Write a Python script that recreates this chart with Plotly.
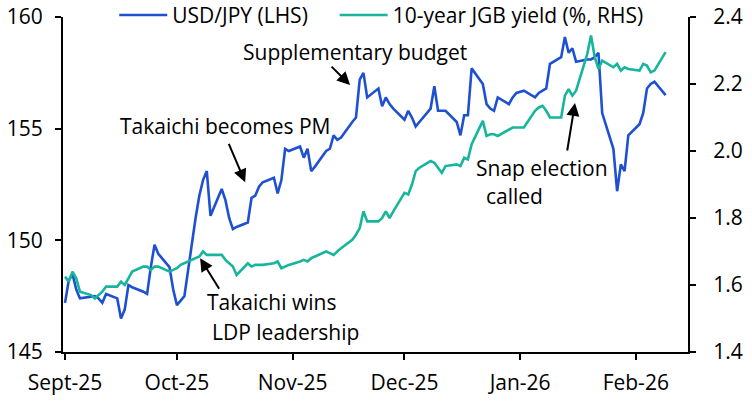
import plotly.graph_objects as go

dates = [
    "2025-09-01", "2025-09-02", "2025-09-03", "2025-09-04", "2025-09-05",
    "2025-09-08", "2025-09-09", "2025-09-10", "2025-09-11", "2025-09-12",
    "2025-09-15", "2025-09-16", "2025-09-17", "2025-09-18", "2025-09-19",
    "2025-09-22", "2025-09-23", "2025-09-24", "2025-09-25", "2025-09-26",
    "2025-09-29", "2025-09-30", "2025-10-01", "2025-10-02", "2025-10-03",
    "2025-10-06", "2025-10-07", "2025-10-08", "2025-10-09", "2025-10-10",
    "2025-10-13", "2025-10-14", "2025-10-15", "2025-10-16", "2025-10-17",
    "2025-10-20", "2025-10-21", "2025-10-22", "2025-10-23", "2025-10-24",
    "2025-10-27", "2025-10-28", "2025-10-29", "2025-10-30", "2025-10-31",
    "2025-11-03", "2025-11-04", "2025-11-05", "2025-11-06", "2025-11-07",
    "2025-11-10", "2025-11-11", "2025-11-12", "2025-11-13", "2025-11-14",
    "2025-11-17", "2025-11-18", "2025-11-19", "2025-11-20", "2025-11-21",
    "2025-11-24", "2025-11-25", "2025-11-26", "2025-11-27", "2025-11-28",
    "2025-12-01", "2025-12-02", "2025-12-03", "2025-12-04", "2025-12-05",
    "2025-12-08", "2025-12-09", "2025-12-10", "2025-12-11", "2025-12-12",
    "2025-12-15", "2025-12-16", "2025-12-17", "2025-12-18", "2025-12-19",
    "2025-12-22", "2025-12-23", "2025-12-24", "2025-12-25", "2025-12-26",
    "2025-12-29", "2025-12-30", "2025-12-31", "2026-01-02",
    "2026-01-05", "2026-01-06", "2026-01-07", "2026-01-08", "2026-01-09",
    "2026-01-12", "2026-01-13", "2026-01-14", "2026-01-15", "2026-01-16",
    "2026-01-19", "2026-01-20", "2026-01-21", "2026-01-22", "2026-01-23",
    "2026-01-26", "2026-01-27", "2026-01-28", "2026-01-29", "2026-01-30",
    "2026-02-02", "2026-02-03", "2026-02-04", "2026-02-05", "2026-02-06",
    "2026-02-09",
]

usdjpy = [
    147.2, 148.2, 148.5, 147.8, 147.4,
    147.5, 147.5, 147.4, 147.2, 147.6,
    147.4, 146.5, 146.9, 148.0, 147.9,
    147.7, 147.6, 148.8, 149.8, 149.4,
    148.8, 147.8, 147.1, 147.3, 147.5,
    151.0, 152.0, 152.7, 153.1, 151.1,
    152.3, 151.8, 151.0, 150.5, 150.6,
    150.8, 151.9, 152.0, 152.4, 152.6,
    152.8, 152.1, 152.7, 154.1, 154.0,
    154.2, 153.7, 154.1, 153.1, 153.3,
    154.0, 154.1, 154.7, 154.5, 154.6,
    155.3, 155.5, 157.2, 157.5, 156.4,
    156.8, 156.0, 156.4, 156.1, 155.9,
    155.4, 155.8, 155.5, 155.1, 155.3,
    155.9, 156.9, 155.8, 155.8, 155.8,
    155.3, 154.7, 155.6, 155.6, 157.7,
    157.0, 156.1, 155.9, 155.8, 156.4,
    156.1, 156.4, 156.6, 156.7,
    156.4, 156.6, 156.7, 156.8, 157.9,
    158.2, 159.1, 158.4, 158.6, 158.0,
    158.1, 158.1, 158.2, 158.4, 155.7,
    154.1, 152.2, 153.4, 153.1, 154.7,
    155.2, 155.7, 156.8, 157.0, 157.1,
    156.5,
]

jgb10y = [
    1.625, 1.61, 1.64, 1.62, 1.58,
    1.57, 1.56, 1.57, 1.58, 1.595,
    1.595, 1.61, 1.60, 1.62, 1.64,
    1.655, 1.655, 1.645, 1.655, 1.655,
    1.64, 1.645, 1.65, 1.66, 1.665,
    1.68, 1.685, 1.70, 1.69, 1.69,
    1.69, 1.675, 1.665, 1.655, 1.63,
    1.665, 1.655, 1.66, 1.66, 1.66,
    1.665, 1.67, 1.65, 1.655, 1.66,
    1.67, 1.675, 1.67, 1.68, 1.685,
    1.70, 1.695, 1.69, 1.70, 1.71,
    1.735, 1.75, 1.77, 1.82, 1.79,
    1.79, 1.80, 1.82, 1.80, 1.82,
    1.875, 1.87, 1.90, 1.94, 1.95,
    1.97, 1.965, 1.95, 1.935, 1.955,
    1.96, 1.955, 1.98, 1.975, 2.02,
    2.09, 2.045, 2.05, 2.05, 2.045,
    2.065, 2.07, 2.07, 2.07,
    2.12, 2.13, 2.135, 2.12, 2.10,
    2.10, 2.165, 2.185, 2.165, 2.18,
    2.29, 2.345, 2.28, 2.245, 2.27,
    2.25, 2.26, 2.24, 2.25, 2.245,
    2.24, 2.26, 2.255, 2.235, 2.24,
    2.295,
]

tick_dates = ["2025-09-01", "2025-10-01", "2025-11-01", "2025-12-01", "2026-01-01", "2026-02-01"]
tick_labels = ["Sept-25", "Oct-25", "Nov-25", "Dec-25", "Jan-26", "Feb-26"]

BLUE = "#1f50d2"
TEAL = "#17b59c"
FONT = "Open Sans"
FS = 21

fig = go.Figure()
fig.add_trace(go.Scatter(x=dates, y=usdjpy, name="USD/JPY (LHS)" + "\u00a0" * 4, mode="lines",
                         line=dict(color=BLUE, width=2.6)))
fig.add_trace(go.Scatter(x=dates, y=jgb10y, name="10-year JGB yield (%, RHS)", mode="lines",
                         line=dict(color=TEAL, width=2.6), yaxis="y2"))


def axis_style(standoff):
    return dict(showline=True, linecolor="black", linewidth=2, ticks="outside",
                tickcolor="black", tickwidth=2, ticklen=6, showgrid=False, zeroline=False,
                ticklabelstandoff=standoff,
                tickfont=dict(family=FONT, size=FS, color="black"))


fig.update_layout(
    width=752, height=408,
    margin=dict(l=63, r=64, t=17, b=56, autoexpand=False),
    paper_bgcolor="white", plot_bgcolor="white",
    font=dict(family=FONT, size=FS, color="black"),
    xaxis=dict(range=["2025-08-31 11:00", "2026-02-15 00:00"], tickvals=tick_dates,
               ticktext=tick_labels, **axis_style(5)),
    yaxis=dict(range=[145, 160], dtick=5, **axis_style(8)),
    yaxis2=dict(range=[1.4, 2.4], dtick=0.2, tickformat=".1f", overlaying="y", side="right",
                **axis_style(13)),
    legend=dict(orientation="h", x=0.082, y=1.005, xanchor="left", yanchor="middle",
                bgcolor="rgba(0,0,0,0)", font=dict(family=FONT, size=FS),
                itemwidth=48),
    showlegend=True,
)

texts = [
    ("Takaichi becomes PM", "2025-10-13 22:00", 155.12),
    ("Supplementary budget", "2025-11-17 17:00", 158.43),
    ("Snap election", "2026-01-06 22:00", 153.24),
    ("called", "2025-12-30 10:00", 151.98),
    ("Takaichi wins", "2025-10-26 10:00", 147.24),
    ("LDP leadership", "2025-10-30 02:00", 145.89),
]
for t, x, y in texts:
    fig.add_annotation(x=x, y=y, xref="x", yref="y", text=t, showarrow=False,
                       font=dict(family=FONT, size=FS, color="black"),
                       xanchor="center", yanchor="middle")

arrows = [
    ("2025-10-19 07:00", 152.6, -17, -40),
    ("2025-11-16 10:00", 156.95, -20, -20),
    ("2026-01-15 17:00", 156.15, -8, 49),
    ("2025-10-07 05:00", 149.2, 20, 32),
]
for x, y, ax, ay in arrows:
    fig.add_annotation(x=x, y=y, xref="x", yref="y", text="", showarrow=True,
                       ax=ax, ay=ay, axref="pixel", ayref="pixel",
                       arrowhead=2, arrowsize=1.3, arrowwidth=2, arrowcolor="black")

fig.write_html("out.html")
